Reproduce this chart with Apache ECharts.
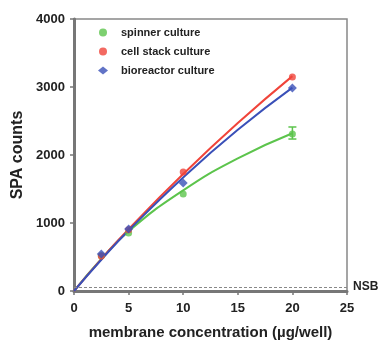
<!DOCTYPE html>
<html>
<head>
<meta charset="utf-8">
<script src="https://cdn.jsdelivr.net/npm/echarts@6/dist/echarts.min.js"></script>
<style>
  html, body { margin: 0; padding: 0; background: #fff; }
  #chart { width: 382px; height: 340px; }
</style>
</head>
<body>
<div id="chart"></div>
<script>
// measured points
const xPoints = [2.5, 5, 10, 20];
const spinner = [520, 853, 1426, 2309];
const cellStack = [515, 900, 1750, 3147];
const bioreactor = [544, 912, 1588, 2985];
const spinnerErrLow = [null, null, null, 2235];
const spinnerErrHigh = [null, null, null, 2412];

// fitted curves
const fitX = [0, 2.5, 5, 10, 15, 20];
const spinnerFit = [0, 470, 880, 1480, 1950, 2320];
const cellStackFit = [0, 470, 910, 1720, 2470, 3160];
const bioreactorFit = [0, 460, 890, 1670, 2370, 2990];

const nsb = 60;
const xTicks = [0, 5, 10, 15, 20, 25];
const yTicks = [0, 1000, 2000, 3000, 4000];

const names = ['spinner culture', 'cell stack culture', 'bioreactor culture'];
const colors = ['#5cc44c', '#f0443a', '#3a50b8'];
const symbols = ['circle', 'circle', 'diamond'];

const pairs = (xs, ys) => xs.map((x, i) => [x, ys[i]]);

let chart = echarts.init(document.getElementById('chart'));
const font = 'Liberation Sans, Arial, sans-serif';

let series = [];
[spinner, cellStack, bioreactor].forEach((vals, i) => {
    series.push({
        name: names[i],
        type: 'scatter',
        symbol: symbols[i],
        symbolSize: symbols[i] === 'diamond' ? 9 : 7,
        itemStyle: { color: colors[i] },
        data: pairs(xPoints, vals),
        z: 5
    });
});
[spinnerFit, cellStackFit, bioreactorFit].forEach((vals, i) => {
    series.push({
        type: 'line',
        smooth: true,
        showSymbol: false,
        lineStyle: { color: colors[i], width: 2 },
        data: pairs(fitX, vals),
        silent: true,
        z: 3
    });
});
// error bar for spinner
series.push({
    type: 'custom',
    silent: true,
    z: 4,
    data: xPoints.map((x, i) => [x, spinnerErrLow[i], spinnerErrHigh[i]]).filter(d => d[1] != null),
    renderItem: function (params, api) {
        let lo = api.coord([api.value(0), api.value(1)]);
        let hi = api.coord([api.value(0), api.value(2)]);
        let st = { stroke: colors[0], lineWidth: 1.5 };
        return {
            type: 'group',
            children: [
                { type: 'line', shape: { x1: lo[0], y1: lo[1], x2: hi[0], y2: hi[1] }, style: st },
                { type: 'line', shape: { x1: lo[0] - 4, y1: lo[1], x2: lo[0] + 4, y2: lo[1] }, style: st },
                { type: 'line', shape: { x1: hi[0] - 4, y1: hi[1], x2: hi[0] + 4, y2: hi[1] }, style: st }
            ]
        };
    }
});
// NSB line
series.push({
    type: 'line',
    data: [],
    silent: true,
    markLine: {
        symbol: 'none',
        silent: true,
        lineStyle: { color: '#888', type: [3, 2], width: 1 },
        label: { position: 'end', formatter: 'NSB', color: '#222', fontWeight: 'bold', fontSize: 12, fontFamily: font, distance: 6 },
        data: [{ yAxis: nsb }]
    }
});

chart.setOption({
    animation: false,
    grid: { left: 74, right: 35, top: 19, bottom: 49, show: true, borderColor: '#888', borderWidth: 1.5,
        outerBoundsMode: 'none' },
    legend: {
        data: names,
        orient: 'vertical',
        left: 93,
        top: 22,
        itemGap: 8,
        itemWidth: 10,
        itemHeight: 8,
        textStyle: { fontSize: 11, fontWeight: 'bold', color: '#222', fontFamily: font, padding: [0, 0, 0, 8] }
    },
    xAxis: {
        type: 'value',
        min: 0, max: 25, interval: 5,
        name: 'membrane concentration (\u00b5g/well)',
        nameLocation: 'middle',
        nameGap: 34,
        nameTextStyle: { fontSize: 15, fontWeight: 'bold', color: '#222', fontFamily: font },
        axisLine: { lineStyle: { color: '#777', width: 3 } },
        axisTick: { show: true, length: 4, lineStyle: { color: '#777', width: 1.5 } },
        axisLabel: { fontSize: 13, fontWeight: 'bold', color: '#222', fontFamily: font, margin: 11,
            formatter: v => xTicks.includes(v) ? String(v) : '' },
        splitLine: { show: false }
    },
    yAxis: {
        type: 'value',
        min: 0, max: 4000, interval: 1000,
        name: 'SPA counts',
        nameLocation: 'middle',
        nameGap: 48,
        nameTextStyle: { fontSize: 16, fontWeight: 'bold', color: '#222', fontFamily: font },
        axisLine: { show: true, lineStyle: { color: '#777', width: 3 } },
        axisTick: { show: true, length: 4, lineStyle: { color: '#777', width: 1.5 } },
        axisLabel: { fontSize: 13, fontWeight: 'bold', color: '#222', fontFamily: font, margin: 9,
            formatter: v => yTicks.includes(v) ? String(v) : '' },
        splitLine: { show: false }
    },
    series: series
});
</script>
</body>
</html>
